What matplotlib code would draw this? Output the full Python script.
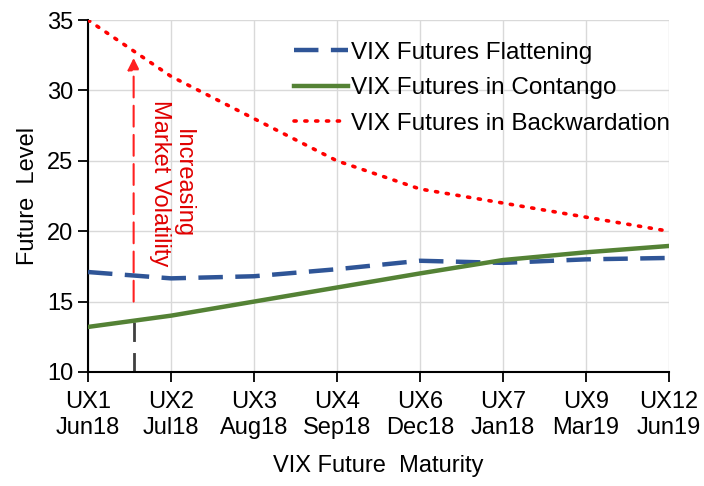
import matplotlib
matplotlib.use("Agg")
import matplotlib.pyplot as plt

plt.rcParams['font.family'] = ['Liberation Sans', 'DejaVu Sans']

contracts = ["UX1", "UX2", "UX3", "UX4", "UX6", "UX7", "UX9", "UX12"]
months = ["Jun18", "Jul18", "Aug18", "Sep18", "Dec18", "Jan18", "Mar19", "Jun19"]
flattening = [17.1, 16.65, 16.8, 17.3, 17.9, 17.75, 18.0, 18.1]
contango = [13.2, 14.0, 15.0, 16.0, 17.0, 17.95, 18.5, 18.95]
backwardation = [35.0, 31.0, 28.0, 25.0, 23.0, 22.0, 21.0, 20.0]
arrow_x = 0.55
arrow_base = [10, 14.1]
arrow_span = [15, 32.3]

labels = [f"{c}\n{m}" for c, m in zip(contracts, months)]
x = list(range(len(contracts)))

fig = plt.figure(figsize=(7.04, 4.86), dpi=100)
ax = fig.add_axes([0.125, 0.2346, 0.825, 0.7242])

ax.plot(x, flattening, color='#2f5597', lw=3.2, dashes=(5.5, 2.8), label='VIX Futures Flattening', zorder=3)
ax.plot(x, contango, color='#548235', lw=3.2, label='VIX Futures in Contango', zorder=3)
ax.plot(x, backwardation, color='#ff0000', lw=2.6, ls=(0, (0.6, 2.4)), dash_capstyle='round', label='VIX Futures in Backwardation', zorder=3)

ax.plot([arrow_x, arrow_x], arrow_base, color='#404040', lw=2, dashes=(7, 4), zorder=2)
ax.annotate('', xy=(arrow_x, arrow_span[1]), xytext=(arrow_x, arrow_span[0]),
            arrowprops=dict(arrowstyle='-|>', color='#ff2020', lw=1.5, ls=(0, (10, 4)),
                            mutation_scale=18, shrinkA=0, shrinkB=0), zorder=2)
ax.text(1.0, 23.4, "Increasing\nMarket Volatility", rotation=270, color='#e00000',
        fontsize=17, ha='center', va='center', linespacing=1.05)

ax.set_xlim(0, len(x) - 1)
ax.set_ylim(10, 35)
ax.set_yticks([10, 15, 20, 25, 30, 35])
ax.set_xticks(x)
ax.set_xticklabels(labels)
ax.grid(True, color='#d9d9d9', lw=1)
ax.set_axisbelow(True)
for s in ['top', 'right']:
    ax.spines[s].set_visible(False)
for s in ['left', 'bottom']:
    ax.spines[s].set_color('black')
    ax.spines[s].set_linewidth(1.5)
ax.tick_params(axis='both', direction='out', length=7, width=1.3, labelsize=17, colors='black')
ax.tick_params(axis='x', pad=7)
ax.set_xlabel("VIX Future  Maturity", fontsize=17, labelpad=12)
ax.set_ylabel("Future  Level", fontsize=17, labelpad=6)

ax.legend(loc='upper right', bbox_to_anchor=(1.04, 1.0), frameon=False, fontsize=17.5,
          handlelength=2.2, handletextpad=0.15, labelspacing=0.55)

fig.savefig("out.png", dpi=100)
